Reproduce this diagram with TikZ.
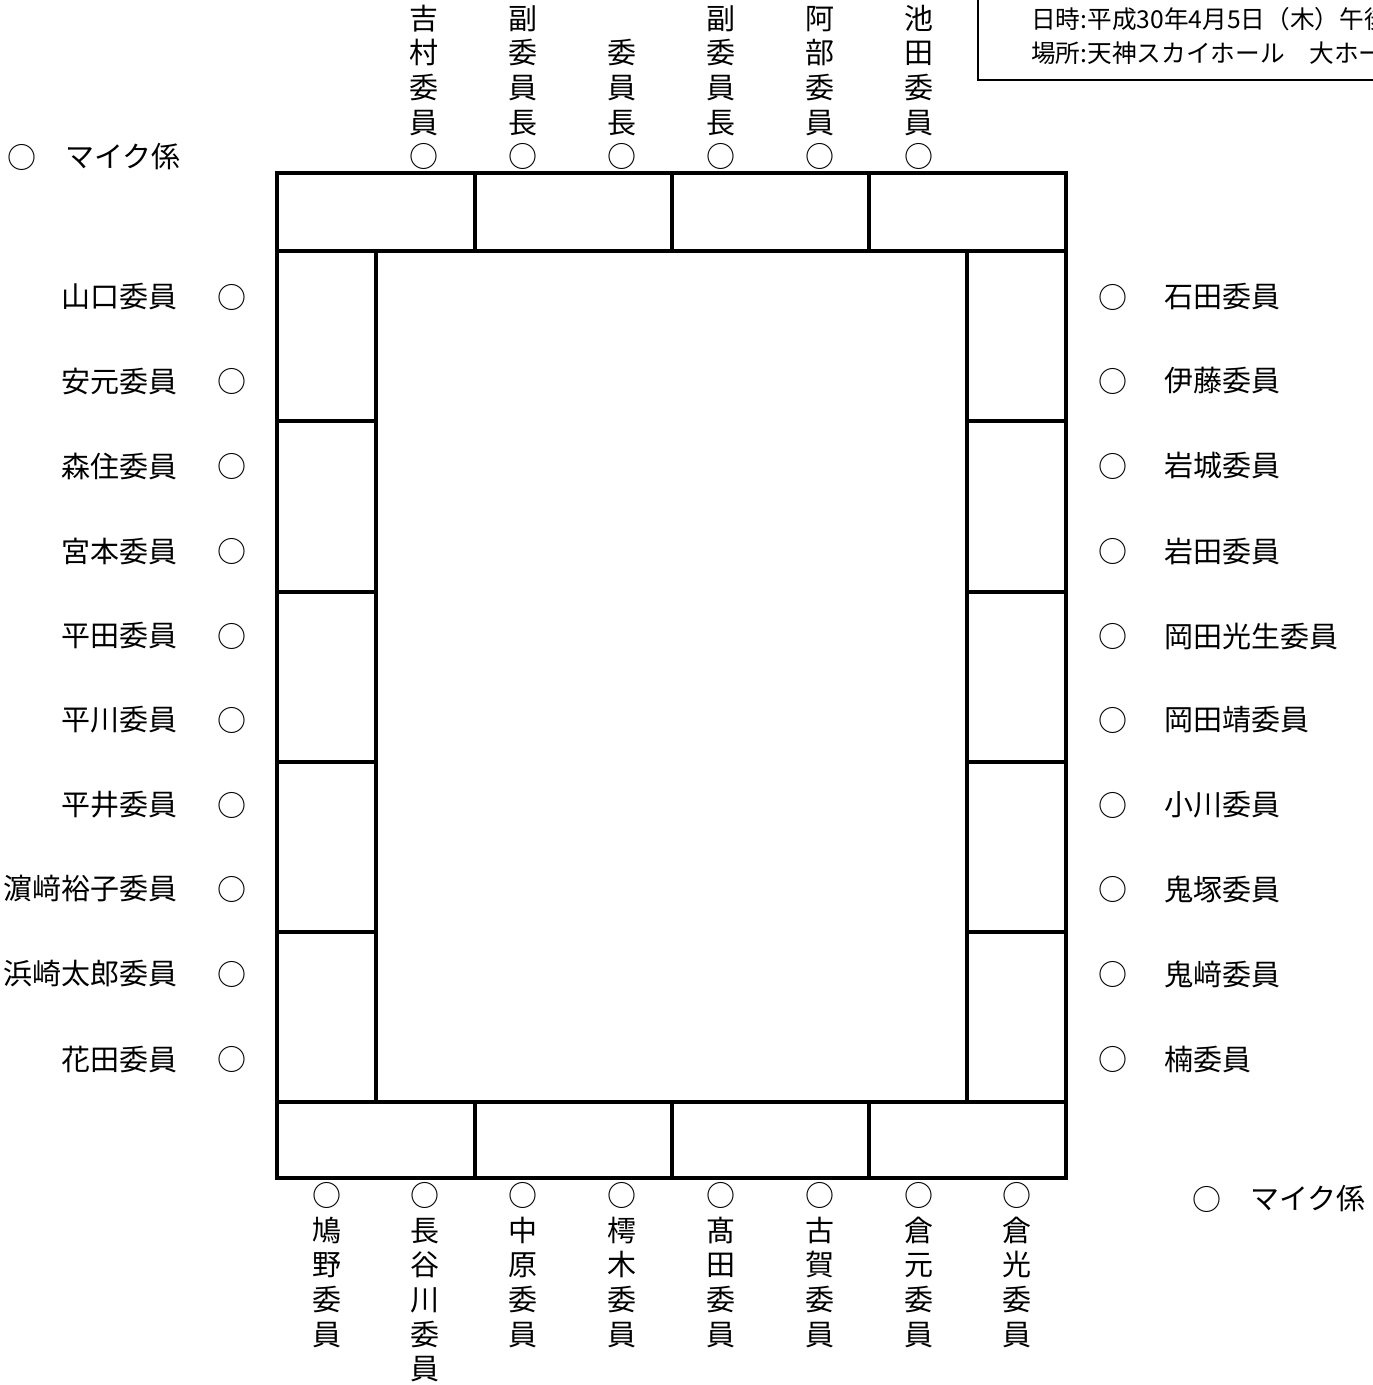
\documentclass[tikz,border=0pt]{standalone}
\usepackage{fontspec}
\setmainfont{Noto Sans CJK JP}
\begin{document}
\begin{tikzpicture}[x=0.75pt,y=-0.75pt,
  tbl/.style={line width=2.3pt,line cap=rect},
  lbl/.style={inner sep=0pt,font=\fontsize{21.75pt}{25.7pt}\selectfont},
  vlbl/.style={lbl,align=center,font=\fontsize{21.75pt}{26pt}\selectfont},
  info/.style={inner sep=0pt,anchor=west,font=\fontsize{18.5pt}{20pt}\selectfont}]
\useasboundingbox (0,0) rectangle (1373,1385);
\clip (0,0) rectangle (1373,1385);
% info box
\draw[line width=1.2pt] (978,-20) rectangle (1420,80);
\node[info] (date) at (1031,19) {日時:平成30年4月5日（木）午後};
\node[info] (place) at (1031,53) {場所:天神スカイホール　大ホール};
% table
\draw[tbl] (277,173) rectangle (1066,1178);
\draw[tbl] (277,251) -- (1066,251);
\draw[tbl] (277,1102) -- (1066,1102);
\draw[tbl] (376,251) -- (376,1102);
\draw[tbl] (967,251) -- (967,1102);
\foreach \x in {475,672,869} {
  \draw[tbl] (\x,173) -- (\x,251);
  \draw[tbl] (\x,1102) -- (\x,1178);
}
\foreach \y in {421,592,762,932} {
  \draw[tbl] (277,\y) -- (376,\y);
  \draw[tbl] (967,\y) -- (1066,\y);
}
% microphone staff
\node[lbl,anchor=center] (mic1c) at (22,157) {○};
\node[lbl,anchor=west] (mic1) at (65,157) {マイク係};
\node[lbl,anchor=center] (mic2c) at (1207,1199) {○};
\node[lbl,anchor=west] (mic2) at (1250,1199) {マイク係};
% left side
\foreach \n/\t [count=\i] in {297/山口委員,381/安元委員,466/森住委員,551/宮本委員,636/平田委員,720/平川委員,805/平井委員,889/濵﨑裕子委員,974/浜崎太郎委員,1059/花田委員} {
  \node[lbl,anchor=east] (L\i) at (178,\n) {\t};
  \node[lbl,anchor=center] (Lc\i) at (232,\n) {○};
}
% right side
\foreach \n/\t [count=\i] in {297/石田委員,381/伊藤委員,466/岩城委員,551/岩田委員,636/岡田光生委員,720/岡田靖委員,805/小川委員,889/鬼塚委員,974/鬼﨑委員,1059/楠委員} {
  \node[lbl,anchor=center] (Rc\i) at (1113,\n) {○};
  \node[lbl,anchor=west] (R\i) at (1164,\n) {\t};
}
% top
\node[vlbl,anchor=south] (T1) at (424,170) {吉\\村\\委\\員\\○};
\node[vlbl,anchor=south] (T2) at (523,170) {副\\委\\員\\長\\○};
\node[vlbl,anchor=south] (T3) at (622,170) {委\\員\\長\\○};
\node[vlbl,anchor=south] (T4) at (721,170) {副\\委\\員\\長\\○};
\node[vlbl,anchor=south] (T5) at (820,170) {阿\\部\\委\\員\\○};
\node[vlbl,anchor=south] (T6) at (919,170) {池\\田\\委\\員\\○};
% bottom
\node[vlbl,anchor=north] (B1) at (327,1182) {○\\鳩\\野\\委\\員};
\node[vlbl,anchor=north] (B2) at (425,1182) {○\\長\\谷\\川\\委\\員};
\node[vlbl,anchor=north] (B3) at (523,1182) {○\\中\\原\\委\\員};
\node[vlbl,anchor=north] (B4) at (622,1182) {○\\樗\\木\\委\\員};
\node[vlbl,anchor=north] (B5) at (721,1182) {○\\髙\\田\\委\\員};
\node[vlbl,anchor=north] (B6) at (820,1182) {○\\古\\賀\\委\\員};
\node[vlbl,anchor=north] (B7) at (919,1182) {○\\倉\\元\\委\\員};
\node[vlbl,anchor=north] (B8) at (1017,1182) {○\\倉\\光\\委\\員};
\end{tikzpicture}
\end{document}
